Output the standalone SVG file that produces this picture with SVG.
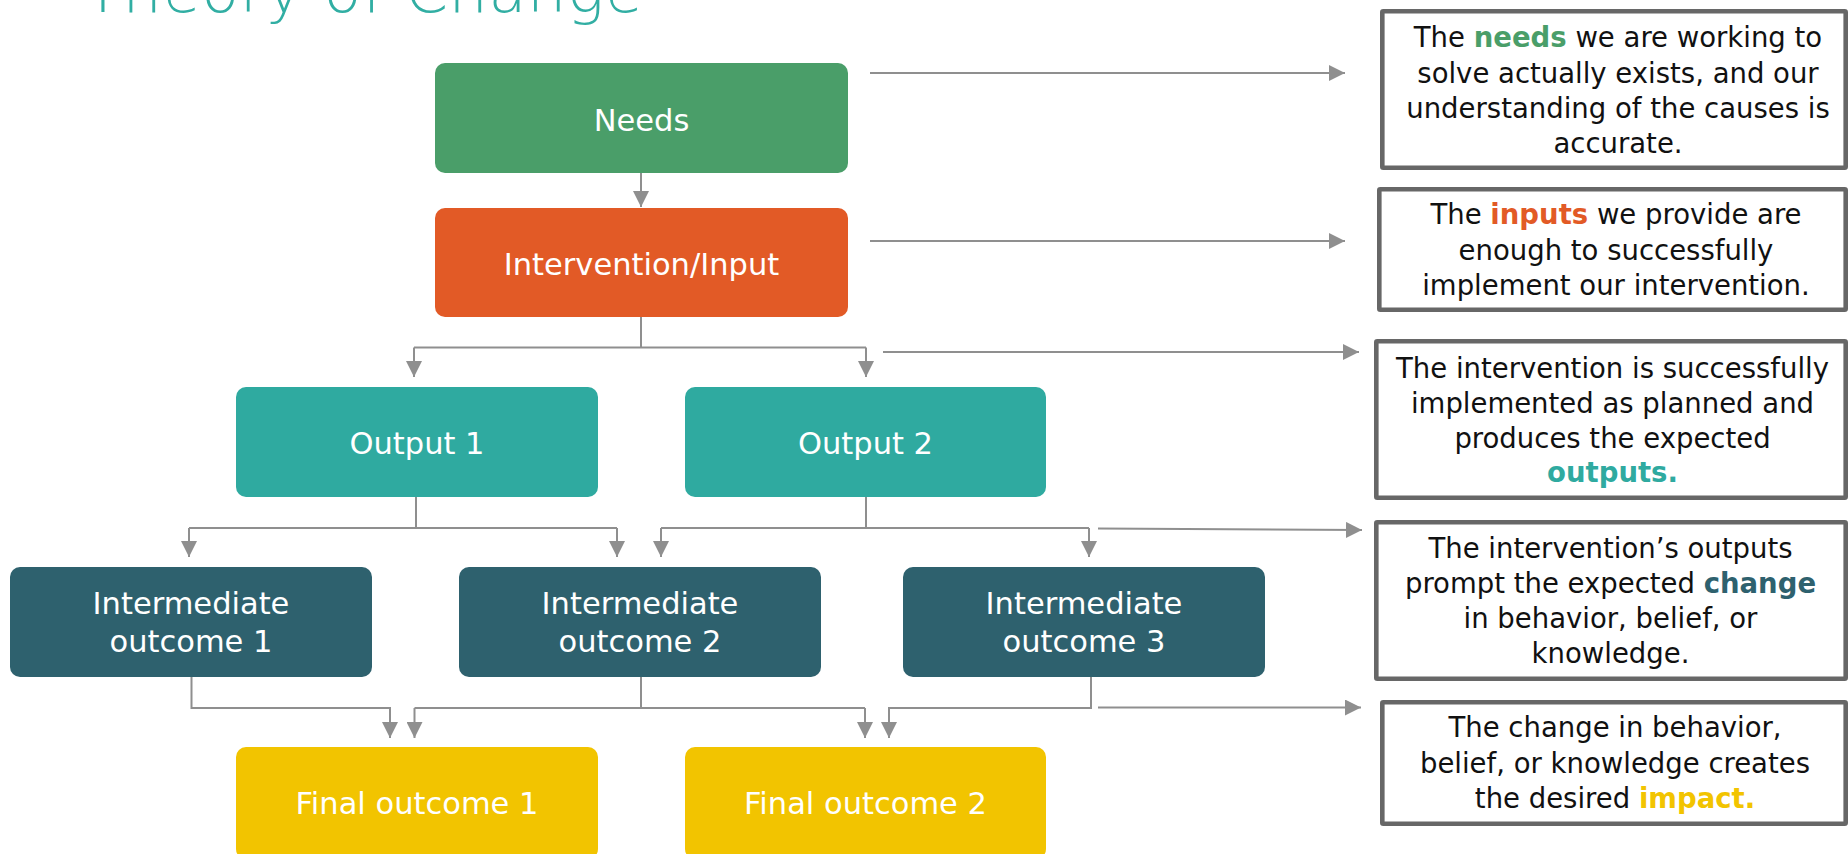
<svg xmlns="http://www.w3.org/2000/svg" width="1848" height="854" viewBox="0 0 1848 854">
<defs>
<marker id="ah" markerUnits="userSpaceOnUse" markerWidth="16" markerHeight="16" viewBox="0 0 16 16" refX="16" refY="8" orient="auto">
<path d="M0,0 L16,8 L0,16 z" fill="#8f8f8f"/>
</marker>
<style>
.node text{font-family:"DejaVu Sans",sans-serif;font-size:30.5px;fill:#ffffff;text-anchor:middle}
.conn path,.conn line{stroke:#8f8f8f;stroke-width:2;fill:none}
.arr{marker-end:url(#ah)}
.tb rect{fill:#ffffff;stroke:#676767;stroke-width:4.6}
.tb text{font-family:"DejaVu Sans",sans-serif;font-size:27.5px;fill:#111111;text-anchor:middle}
.b{font-weight:bold}
</style>
</defs>
<rect x="0" y="0" width="1848" height="854" fill="#ffffff"/>
<text id="title" x="84" y="12" textLength="559" lengthAdjust="spacing" font-family="DejaVu Sans, sans-serif" font-size="62" font-weight="300" fill="#31aea3">Theory of Change</text>

<g class="conn">
<line class="arr" x1="641" y1="173" x2="641" y2="207"/>
<path d="M641,317 V347.5 M414,347.5 H866"/>
<line class="arr" x1="414" y1="347.5" x2="414" y2="377"/>
<line class="arr" x1="866" y1="347.5" x2="866" y2="377"/>
<path d="M416,497 V528 M189,528 H617"/>
<line class="arr" x1="189" y1="528" x2="189" y2="557"/>
<line class="arr" x1="617" y1="528" x2="617" y2="557"/>
<path d="M866,497 V528 M661,528 H1089"/>
<line class="arr" x1="661" y1="528" x2="661" y2="557"/>
<line class="arr" x1="1089" y1="528" x2="1089" y2="557"/>
<path class="arr" d="M191.5,677 V708 H390 V738"/>
<path d="M641,677 V708 M414.5,708 H865"/>
<line class="arr" x1="414.5" y1="708" x2="414.5" y2="738"/>
<line class="arr" x1="865" y1="708" x2="865" y2="738"/>
<path class="arr" d="M1091,677 V708 H889 V738"/>
<line class="arr" x1="870" y1="73" x2="1345" y2="73"/>
<line class="arr" x1="870" y1="241" x2="1345" y2="241"/>
<line class="arr" x1="883" y1="352" x2="1359" y2="352"/>
<line class="arr" x1="1098" y1="528.5" x2="1362" y2="530"/>
<line class="arr" x1="1098" y1="707.5" x2="1361" y2="707.5"/>
</g>

<g id="needs" class="node"><rect x="435" y="63" width="413" height="110" rx="10" fill="#4a9e69"/><text x="641.5" y="130.5">Needs</text></g>
<g id="intervention" class="node"><rect x="435" y="208" width="413" height="109" rx="10" fill="#e25a26"/><text x="641.5" y="275">Intervention/Input</text></g>
<g id="output1" class="node"><rect x="236" y="387" width="362" height="110" rx="10" fill="#2faaa0"/><text x="417" y="454">Output 1</text></g>
<g id="output2" class="node"><rect x="685" y="387" width="361" height="110" rx="10" fill="#2faaa0"/><text x="865.5" y="454">Output 2</text></g>
<g id="io1" class="node"><rect x="10" y="567" width="362" height="110" rx="10" fill="#2e616e"/><text x="191" y="614">Intermediate</text><text x="191" y="651.5">outcome 1</text></g>
<g id="io2" class="node"><rect x="459" y="567" width="362" height="110" rx="10" fill="#2e616e"/><text x="640" y="614">Intermediate</text><text x="640" y="651.5">outcome 2</text></g>
<g id="io3" class="node"><rect x="903" y="567" width="362" height="110" rx="10" fill="#2e616e"/><text x="1084" y="614">Intermediate</text><text x="1084" y="651.5">outcome 3</text></g>
<g id="final1" class="node"><rect x="236" y="747" width="362" height="112" rx="10" fill="#f2c400"/><text x="417" y="814">Final outcome 1</text></g>
<g id="final2" class="node"><rect x="685" y="747" width="361" height="112" rx="10" fill="#f2c400"/><text x="865.5" y="814">Final outcome 2</text></g>

<g id="note1" class="tb"><rect x="1382.3" y="11.3" width="463.4" height="156.4" rx="1"/>
<text x="1618" y="46.7">The <tspan class="b" fill="#4a9e69">needs</tspan> we are working to</text>
<text x="1618" y="82.7">solve actually exists, and our</text>
<text x="1618" y="118">understanding of the causes is</text>
<text x="1618" y="153">accurate.</text></g>
<g id="note2" class="tb"><rect x="1379.3" y="189.3" width="466.4" height="120.4" rx="1"/>
<text x="1616" y="224">The <tspan class="b" fill="#e25a26">inputs</tspan> we provide are</text>
<text x="1616" y="259.5">enough to successfully</text>
<text x="1616" y="295">implement our intervention.</text></g>
<g id="note3" class="tb"><rect x="1376.3" y="341.3" width="469.4" height="156.4" rx="1"/>
<text x="1612.5" y="378">The intervention is successfully</text>
<text x="1612.5" y="413">implemented as planned and</text>
<text x="1612.5" y="448">produces the expected</text>
<text x="1612.5" y="482"><tspan class="b" fill="#2faaa0">outputs.</tspan></text></g>
<g id="note4" class="tb"><rect x="1376.3" y="522.3" width="469.4" height="156.4" rx="1"/>
<text x="1610.5" y="558.3">The intervention’s outputs</text>
<text x="1610.5" y="593.3">prompt the expected <tspan class="b" fill="#2e616e">change</tspan></text>
<text x="1610.5" y="628.3">in behavior, belief, or</text>
<text x="1610.5" y="663.3">knowledge.</text></g>
<g id="note5" class="tb"><rect x="1382.3" y="702.3" width="463.4" height="121.4" rx="1"/>
<text x="1615" y="736.7">The change in behavior,</text>
<text x="1615" y="772.7">belief, or knowledge creates</text>
<text x="1615" y="808.3">the desired <tspan class="b" fill="#f2c400">impact.</tspan></text></g>
</svg>
